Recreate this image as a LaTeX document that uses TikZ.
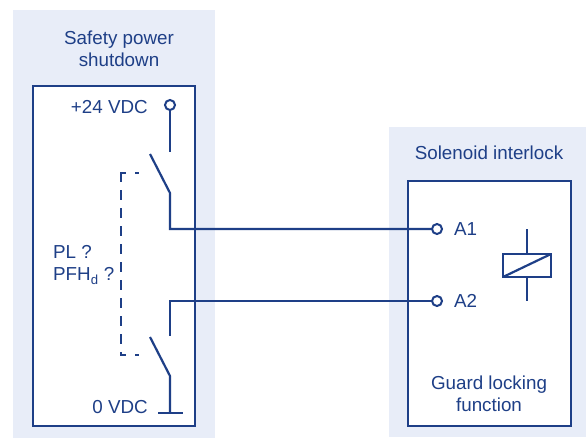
\documentclass[tikz,border=0pt]{standalone}
\usepackage{fontspec}
\setmainfont{Liberation Sans}
\definecolor{navy}{HTML}{1E3F87}
\definecolor{panel}{HTML}{E8EDF8}
\begin{document}
\begin{tikzpicture}[x=1pt,y=-1pt,
  wire/.style={draw=navy,line width=2.2pt},
  frame/.style={draw=navy,line width=2.2pt,fill=white},
  lbl/.style={text=navy,font=\fontsize{18.8pt}{22.5pt}\selectfont,inner sep=0pt},
  term/.style={circle,draw=navy,line width=2pt,fill=white,minimum size=10pt,inner sep=0pt}]
\useasboundingbox (0,0) rectangle (586,439);
% panels
\fill[panel] (13,10) rectangle (215,438);
\fill[panel] (389,127) rectangle (586,437);
\path[frame] (33,86) rectangle (195,426);
\path[frame] (408,181) rectangle (571,426);
% titles
\node[lbl,align=center] (t1) at (119,49) {Safety power\\shutdown};
\node[lbl] (t2) at (489,153) {Solenoid interlock};
\node[lbl,align=center] (t3) at (489,394) {Guard locking\\function};
% left texts
\node[lbl,anchor=east] (v24) at (148,107) {+24 VDC};
\node[lbl,anchor=east] (v0) at (148,407) {0 VDC};
\node[lbl,anchor=west,align=left] (pl) at (53,265) {PL ?\\PFH\textsubscript{d} ?};
% terminals
\node[term] (p24) at (170,105) {};
\node[term] (a1) at (437,229) {};
\node[term] (a2) at (437,301) {};
\node[lbl,anchor=west] (la1) at (454,229) {A1};
\node[lbl,anchor=west] (la2) at (454,301) {A2};
\coordinate (s1a) at (170,152);
\coordinate (s1b) at (150,154);
\coordinate (s1c) at (170,193);
\coordinate (c1) at (170,229);
\coordinate (c2) at (170,301);
\coordinate (s2a) at (170,336);
\coordinate (s2b) at (150,337);
\coordinate (s2c) at (170,376);
\coordinate (g) at (170,413);
% upper contact
\draw[wire] (p24.south) -- (s1a);
\draw[wire] (s1b) -- (s1c) -- (c1) -- (a1.west);
% lower contact
\draw[wire] (a2.west) -- (c2) -- (s2a);
\draw[wire] (s2b) -- (s2c) -- (g);
\draw[wire] (158,413) -- (183,413);
% mechanical link
\draw[wire,dash pattern=on 10pt off 8pt] (121,172) -- (121,356);
\draw[wire] (121,173) -- (126,173);
\draw[wire] (135,173) -- (139,173);
\draw[wire] (121,355) -- (126,355);
\draw[wire] (135,355) -- (139,355);
% coil
\draw[wire] (527,229) -- (527,254);
\draw[wire] (527,277) -- (527,301);
\draw[wire] (503,254) rectangle (551,277);
\draw[wire] (503,277) -- (551,254);
\end{tikzpicture}
\end{document}
